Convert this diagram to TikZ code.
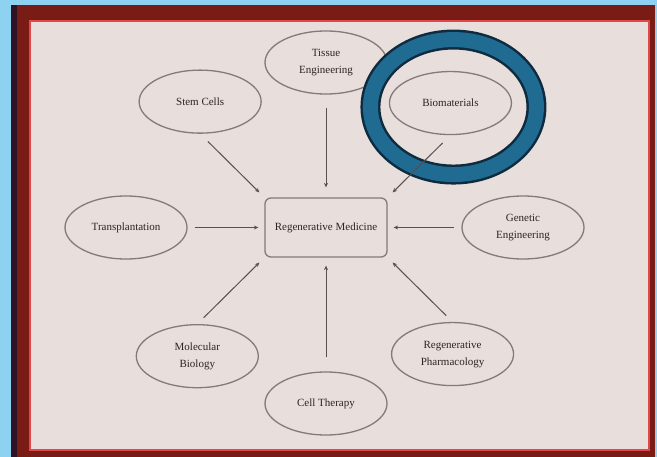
\documentclass[tikz,border=0pt]{standalone}
\usepackage{fontspec}
\setmainfont{Liberation Serif}
\usepackage{tikz}
\usetikzlibrary{shapes.geometric,positioning,arrows.meta}

\definecolor{skyblue}{HTML}{8ED2F2}
\definecolor{frameRed}{HTML}{7A1C16}
\definecolor{frameDark}{HTML}{2E1226}
\definecolor{rimRed}{HTML}{E2474A}
\definecolor{paper}{HTML}{E8DEDB}
\definecolor{lineGray}{HTML}{857A7A}
\definecolor{inkGray}{HTML}{2C2424}
\definecolor{ringBlue}{HTML}{1F6B91}
\definecolor{ringDark}{HTML}{0E2B40}

\begin{document}
\begin{tikzpicture}[x=1pt,y=-1pt,>={Stealth[length=4.5pt,width=4pt]},
			topic/.style={ellipse,draw=lineGray,line width=1.3pt,minimum width=122pt,minimum height=63pt,
				inner sep=0pt,align=center,text=inkGray,font=\fontsize{11}{17}\selectfont},
			hub/.style={rectangle,rounded corners=6pt,draw=lineGray,line width=1.3pt,minimum width=122pt,
				minimum height=59pt,text=inkGray,font=\fontsize{11}{17}\selectfont},
			link/.style={->,inkGray!80,line width=1pt,shorten <=7pt,shorten >=6pt}]

		% frame
		\useasboundingbox (0,0) rectangle (657,457);
		\fill[skyblue] (0,0) rectangle (657,457);
		\fill[frameRed] (11,5) rectangle (655,457);
		\fill[frameDark] (11,5) rectangle (17,457);
		\fill[paper] (31,22) rectangle (648,449);
		\draw[rimRed,line width=1.5pt] (30,21) rectangle (649,450);

		\node[hub] (rm) at (326,227.5) {Regenerative Medicine};
		\node[topic,node distance=165pt,above of=rm] (tissue) {Tissue\\Engineering};
		\node[topic,node distance=176pt,below of=rm] (therapy) {Cell Therapy};
		\node[topic,node distance=200pt,left of=rm] (transpl) {Transplantation};
		\node[topic,node distance=197pt,right of=rm] (genetic) {Genetic\\Engineering};
		\node[topic,node distance=178pt,above left of=rm] (stem) {Stem Cells};
		\node[topic,node distance=176pt,above right of=rm] (bio) {Biomaterials};
		\node[topic,node distance=182pt,below left of=rm] (molbio) {Molecular\\Biology};
		\node[topic,node distance=179pt,below right of=rm] (pharma) {Regenerative\\Pharmacology};

		% highlight ring
		\draw[ringDark,line width=20pt] ([shift={(3,4)}]bio.center) ellipse [x radius=83pt,y radius=67.5pt];
		\draw[ringBlue,line width=15pt] ([shift={(3,4)}]bio.center) ellipse [x radius=83pt,y radius=67.5pt];

		\path[link]
		(stem.south) edge [shorten <=11pt,shorten >=7pt] (rm.north west)
		(tissue.south) edge [shorten <=13pt,shorten >=10pt] (rm.north)
		(bio.south) edge [shorten <=11pt,shorten >=7pt] (rm.north east)
		(transpl) edge (rm)
		(genetic) edge (rm)
		(molbio.north) edge [shorten <=9pt,shorten >=7pt] (rm.south west)
		(therapy.north) edge [shorten <=14pt,shorten >=8pt] (rm.south)
		(pharma.north) edge [shorten <=9pt,shorten >=7pt] (rm.south east);
	\end{tikzpicture}
\end{document}
